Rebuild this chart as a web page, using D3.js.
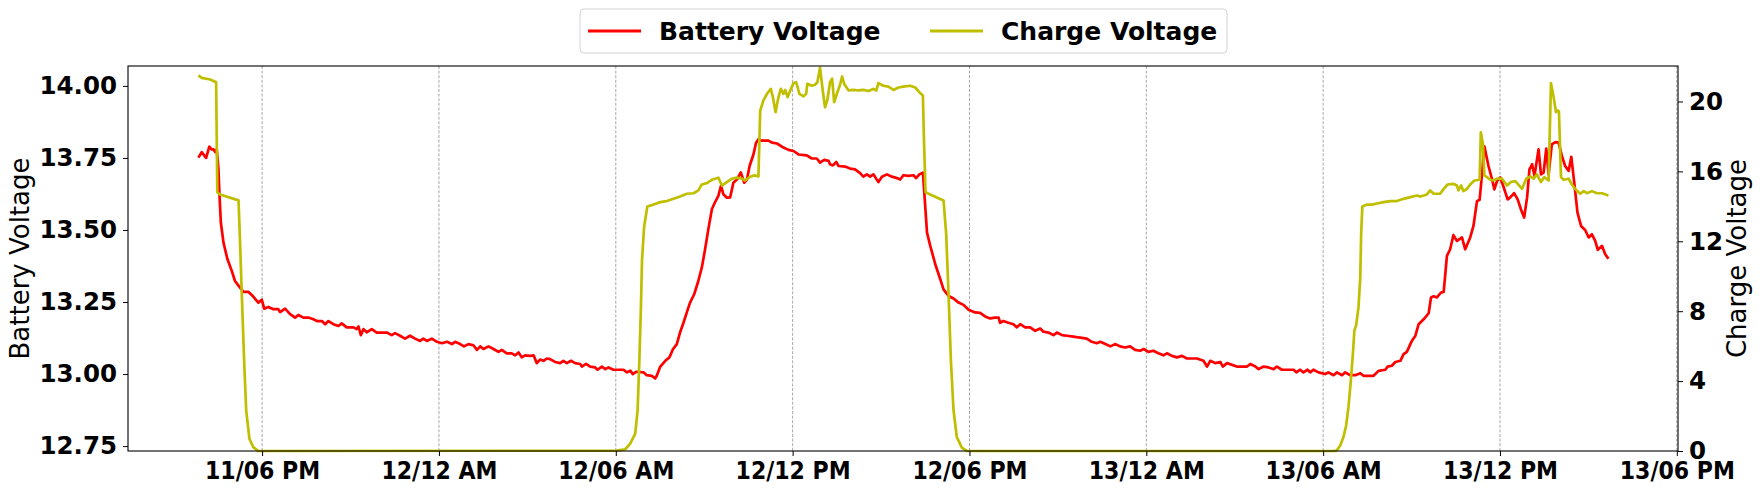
<!DOCTYPE html>
<html>
<head>
<meta charset="utf-8">
<script src="https://cdn.jsdelivr.net/npm/d3@7"></script>
<style>
  html, body { margin: 0; padding: 0; background: #fff; }
  svg { display: block; }
  .tick text { font-family: "DejaVu Sans", sans-serif; }
</style>
</head>
<body>
<svg id="chart" width="1762" height="491"></svg>
<script>
// ---------------- DATA ----------------
// times: hours since day 11, 00:00
const seriesNames = ["Battery Voltage", "Charge Voltage"];
const seriesColors = ["#ff0000", "#bfbf00"];

const batteryTimes = [15.84,15.95,16.10,16.21,16.28,16.35,16.41,16.46,16.52,16.55,16.60,16.69,16.82,16.97,17.08,17.25,17.37,17.54,17.70,17.87,17.99,18.07,18.21,18.38,18.55,18.61,18.78,18.95,19.12,19.23,19.40,19.57,19.74,19.86,20.03,20.14,20.25,20.42,20.59,20.70,20.87,21.10,21.21,21.27,21.35,21.44,21.55,21.72,21.89,22.23,22.40,22.51,22.68,22.85,23.02,23.19,23.36,23.47,23.59,23.76,23.93,24.10,24.27,24.44,24.55,24.72,24.85,25.00,25.17,25.29,25.40,25.51,25.68,25.85,26.02,26.13,26.30,26.47,26.59,26.70,26.81,26.92,27.09,27.21,27.32,27.43,27.55,27.66,27.77,27.94,28.11,28.22,28.34,28.48,28.62,28.79,28.85,28.99,29.13,29.30,29.38,29.53,29.64,29.75,29.92,30.26,30.38,30.49,30.58,30.69,30.94,31.05,31.22,31.34,31.39,31.51,31.68,31.82,31.94,32.07,32.18,32.30,32.41,32.52,32.66,32.80,32.92,33.03,33.14,33.26,33.37,33.48,33.57,33.65,33.77,33.88,33.99,34.11,34.24,34.36,34.45,34.54,34.67,34.76,34.84,34.96,35.18,35.30,35.47,35.69,35.86,36.03,36.20,36.48,36.65,36.82,36.93,37.07,37.22,37.27,37.37,37.48,37.56,37.78,37.95,38.12,38.29,38.40,38.52,38.63,38.74,38.91,39.03,39.20,39.37,39.54,39.65,39.76,39.93,40.10,40.19,40.30,40.42,40.46,40.56,40.67,40.84,41.01,41.12,41.29,41.46,41.63,41.80,41.97,42.19,42.36,42.53,42.70,42.87,42.99,43.04,43.15,43.32,43.49,43.61,43.72,43.89,44.06,44.23,44.40,44.51,44.68,44.85,44.97,45.14,45.31,45.53,45.70,45.98,46.15,46.32,46.44,46.61,46.78,46.94,47.11,47.28,47.45,47.62,47.79,47.91,48.07,48.24,48.41,48.58,48.70,48.87,49.04,49.21,49.38,49.72,49.94,50.06,50.17,50.34,50.51,50.60,50.74,51.07,51.41,51.53,51.70,51.81,51.98,52.15,52.32,52.43,52.60,53.00,53.09,53.22,53.33,53.47,53.56,53.67,53.84,54.07,54.18,54.35,54.47,54.64,54.75,54.92,55.09,55.26,55.37,55.71,55.88,56.11,56.19,56.33,56.45,56.62,56.73,56.84,57.01,57.13,57.24,57.41,57.58,57.66,57.75,57.86,58.00,58.09,58.20,58.31,58.42,58.54,58.71,58.82,58.99,59.10,59.22,59.31,59.39,59.47,59.61,59.73,59.81,59.90,60.01,60.12,60.26,60.35,60.48,60.60,60.71,60.82,60.92,61.00,61.09,61.17,61.31,61.39,61.48,61.57,61.65,61.76,61.88,61.99,62.10,62.21,62.33,62.42,62.52,62.63,62.75,62.89,63.01,63.12,63.23,63.32,63.46,63.57,63.68];
const batteryValues = [13.751,13.770,13.750,13.789,13.780,13.780,13.770,13.780,13.710,13.630,13.526,13.456,13.400,13.358,13.323,13.300,13.285,13.285,13.269,13.248,13.258,13.227,13.233,13.225,13.225,13.215,13.227,13.208,13.196,13.205,13.196,13.196,13.190,13.184,13.184,13.173,13.184,13.173,13.167,13.176,13.162,13.162,13.156,13.165,13.135,13.156,13.145,13.156,13.144,13.144,13.135,13.142,13.133,13.123,13.133,13.123,13.115,13.123,13.115,13.123,13.112,13.107,13.112,13.104,13.112,13.104,13.096,13.104,13.100,13.084,13.096,13.087,13.096,13.087,13.077,13.084,13.072,13.072,13.065,13.075,13.058,13.065,13.063,13.065,13.038,13.050,13.046,13.054,13.052,13.042,13.038,13.046,13.038,13.046,13.038,13.035,13.026,13.035,13.026,13.023,13.015,13.026,13.017,13.023,13.015,13.015,13.006,13.012,13.000,13.008,13.006,12.996,12.994,12.985,12.994,13.026,13.046,13.058,13.086,13.104,13.144,13.179,13.214,13.248,13.277,13.323,13.370,13.433,13.502,13.572,13.597,13.618,13.653,13.624,13.612,13.613,13.664,13.675,13.700,13.664,13.675,13.722,13.762,13.803,13.815,13.810,13.810,13.803,13.800,13.786,13.778,13.774,13.762,13.759,13.748,13.748,13.734,13.743,13.740,13.728,13.724,13.736,13.722,13.720,13.713,13.710,13.697,13.685,13.693,13.685,13.693,13.666,13.685,13.693,13.685,13.680,13.675,13.690,13.688,13.690,13.680,13.693,13.699,13.641,13.491,13.445,13.381,13.329,13.294,13.271,13.262,13.248,13.240,13.223,13.214,13.212,13.200,13.193,13.196,13.196,13.178,13.184,13.178,13.173,13.162,13.173,13.162,13.162,13.150,13.158,13.147,13.144,13.135,13.144,13.135,13.133,13.130,13.127,13.123,13.112,13.107,13.112,13.104,13.096,13.104,13.096,13.092,13.096,13.084,13.081,13.087,13.077,13.081,13.072,13.065,13.072,13.063,13.058,13.063,13.054,13.054,13.046,13.026,13.046,13.038,13.042,13.026,13.038,13.026,13.026,13.035,13.026,13.017,13.026,13.023,13.017,13.026,13.015,13.015,13.006,13.015,13.006,13.015,13.006,13.015,13.006,13.000,13.006,12.996,13.006,12.996,13.006,12.996,12.996,13.003,12.994,12.994,13.011,13.015,13.026,13.029,13.042,13.046,13.069,13.077,13.115,13.133,13.173,13.190,13.211,13.266,13.270,13.266,13.283,13.285,13.410,13.433,13.482,13.462,13.474,13.433,13.474,13.514,13.600,13.605,13.693,13.790,13.722,13.676,13.641,13.670,13.682,13.650,13.606,13.613,13.628,13.606,13.572,13.543,13.613,13.710,13.728,13.688,13.780,13.693,13.699,13.782,13.693,13.797,13.805,13.803,13.757,13.722,13.705,13.754,13.664,13.560,13.514,13.500,13.474,13.485,13.462,13.431,13.445,13.416,13.400];

const chargeTimes = [15.84,15.95,16.24,16.44,16.48,16.57,17.20,17.25,17.31,17.39,17.46,17.57,17.70,17.87,30.04,30.32,30.49,30.66,30.74,30.80,30.85,30.89,30.96,31.07,31.28,31.51,31.73,31.96,32.18,32.41,32.64,32.80,32.92,33.09,33.26,33.37,33.48,33.60,33.77,33.94,34.11,34.28,34.39,34.54,34.70,34.84,34.90,35.01,35.13,35.26,35.33,35.42,35.52,35.60,35.69,35.75,35.83,35.92,36.03,36.12,36.23,36.37,36.46,36.50,36.65,36.76,36.84,36.93,37.03,37.10,37.18,37.27,37.34,37.41,37.50,37.61,37.68,37.75,37.90,38.07,38.23,38.40,38.57,38.74,38.84,38.91,39.08,39.25,39.42,39.59,39.76,39.99,40.16,40.30,40.42,40.46,40.51,40.61,41.12,41.21,41.29,41.37,41.46,41.57,41.74,41.91,54.41,54.47,54.58,54.69,54.78,54.86,54.94,55.01,55.06,55.12,55.20,55.26,55.29,55.33,55.49,55.66,55.83,56.05,56.28,56.50,56.73,56.96,57.18,57.29,57.41,57.52,57.63,57.75,57.97,58.09,58.22,58.42,58.54,58.59,58.68,58.76,58.88,58.99,59.13,59.31,59.35,59.42,59.47,59.56,59.67,59.78,59.90,60.07,60.24,60.37,60.52,60.60,60.75,60.89,61.03,61.14,61.25,61.39,61.50,61.65,61.73,61.82,61.90,61.95,62.00,62.07,62.16,62.33,62.44,62.55,62.72,62.84,62.95,63.12,63.29,63.46,63.68];
const chargeValues = [21.49,21.35,21.26,21.10,14.81,14.68,14.34,12.05,9.00,5.18,2.32,0.70,0.22,0.00,0.02,0.10,0.42,0.99,2.32,5.18,8.04,10.90,12.81,13.99,14.10,14.24,14.30,14.43,14.56,14.72,14.75,14.91,15.25,15.33,15.52,15.58,15.64,15.19,15.39,15.58,15.64,15.58,15.48,15.68,15.77,15.71,19.48,20.06,20.44,20.72,20.25,19.39,20.25,20.72,20.44,20.66,20.25,20.63,21.05,21.10,20.44,20.29,20.44,21.01,20.90,20.96,21.10,21.93,20.53,19.67,20.10,21.10,21.30,19.96,20.44,20.96,21.43,21.00,20.63,20.66,20.63,20.66,20.60,20.72,20.63,21.05,20.90,20.85,20.66,20.80,20.85,20.90,20.80,20.53,20.34,17.58,14.81,14.72,14.34,12.43,9.00,5.18,2.32,0.80,0.19,0.00,0.00,0.05,0.32,0.80,1.46,2.51,4.04,5.57,6.90,7.19,8.23,9.95,12.43,13.99,14.10,14.10,14.16,14.24,14.30,14.30,14.43,14.53,14.62,14.56,14.62,14.68,14.91,14.72,14.72,15.00,15.25,15.29,15.19,14.91,15.19,14.87,15.00,15.25,15.48,15.52,18.24,17.58,15.77,15.67,15.52,15.48,15.58,15.58,15.19,15.39,15.44,15.29,15.00,15.58,15.71,15.58,15.83,15.39,15.67,15.48,21.05,20.25,19.39,19.48,19.44,15.67,15.52,15.58,15.25,15.00,14.72,14.87,14.75,14.87,14.75,14.75,14.62];

const batteryTicks = [12.75, 13.00, 13.25, 13.50, 13.75, 14.00];
const chargeTicks = [0, 4, 8, 12, 16, 20];
const xDomainHours = [13.45, 66.04];
const batteryDomain = [12.733, 14.069];
const chargeDomain = [0, 22.03];

// ---------------- CHART ----------------
const baseDate = new Date(2024, 0, 11, 0, 0, 0);
const toDate = h => new Date(baseDate.getTime() + h * 3600e3);

const W = 1762, H = 491;
const m = { left: 128, right: W - 1678, top: 66, bottom: H - 451 };
const pw = W - m.left - m.right, ph = H - m.top - m.bottom;

const svg = d3.select("#chart");
const g = svg.append("g").attr("transform", `translate(${m.left},${m.top})`);

const x = d3.scaleTime().domain(xDomainHours.map(toDate)).range([0, pw]);
const yL = d3.scaleLinear().domain(batteryDomain).range([ph, 0]);
const yR = d3.scaleLinear().domain(chargeDomain).range([ph, 0]);

const xTicks = d3.timeHour.every(6).range(toDate(xDomainHours[0]), toDate(xDomainHours[1]));
const fmt = d3.timeFormat("%d/%I %p");

// grid
g.append("g").selectAll("line").data(xTicks).join("line")
  .attr("x1", d => x(d)).attr("x2", d => x(d))
  .attr("y1", 0).attr("y2", ph)
  .attr("stroke", "#909090").attr("stroke-width", 0.8)
  .attr("stroke-dasharray", "3,1.6");

const batteryData = batteryTimes.map((t, i) => [toDate(t), batteryValues[i]]);
const chargeData = chargeTimes.map((t, i) => [toDate(t), chargeValues[i]]);

g.append("path").datum(batteryData)
  .attr("fill", "none").attr("stroke", seriesColors[0]).attr("stroke-width", 2.7)
  .attr("stroke-linejoin", "round")
  .attr("d", d3.line().x(d => x(d[0])).y(d => yL(d[1])));

g.append("path").datum(chargeData)
  .attr("fill", "none").attr("stroke", seriesColors[1]).attr("stroke-width", 2.7)
  .attr("stroke-linejoin", "round")
  .attr("d", d3.line().x(d => x(d[0])).y(d => yR(d[1])));

// axes
const xAxis = g.append("g").attr("transform", `translate(0,${ph})`)
  .call(d3.axisBottom(x).tickValues(xTicks).tickFormat(fmt).tickSize(5).tickPadding(6));
xAxis.selectAll("text")
  .style("font-family", "'DejaVu Sans Condensed', 'DejaVu Sans', sans-serif")
  .style("font-stretch", "condensed")
  .style("font-weight", "bold").style("font-size", "24.5px").attr("fill", "#000");

const yAxisL = g.append("g")
  .call(d3.axisLeft(yL).tickValues(batteryTicks).tickFormat(d3.format(".2f")).tickSize(5).tickPadding(6));
yAxisL.selectAll("text").style("font-weight", "bold").style("font-size", "24.5px").attr("fill", "#000");

const yAxisR = g.append("g").attr("transform", `translate(${pw},0)`)
  .call(d3.axisRight(yR).tickValues(chargeTicks).tickFormat(d3.format("d")).tickSize(5).tickPadding(6));
yAxisR.selectAll("text").style("font-weight", "bold").style("font-size", "24.5px").attr("fill", "#000");

[xAxis, yAxisL, yAxisR].forEach(a => {
  a.select(".domain").remove();
  a.selectAll(".tick line").attr("stroke", "#000").attr("stroke-width", 1);
});

// frame
g.append("rect").attr("width", pw).attr("height", ph)
  .attr("fill", "none").attr("stroke", "#000").attr("stroke-width", 1.1);

// axis labels
svg.append("text")
  .attr("transform", `translate(29,${m.top + ph / 2}) rotate(-90)`)
  .attr("text-anchor", "middle")
  .style("font-family", "'DejaVu Sans', sans-serif").style("font-size", "26px")
  .text(seriesNames[0]);
svg.append("text")
  .attr("transform", `translate(1746,${m.top + ph / 2}) rotate(-90)`)
  .attr("text-anchor", "middle")
  .style("font-family", "'DejaVu Sans', sans-serif").style("font-size", "26px")
  .text(seriesNames[1]);

// legend
const leg = svg.append("g");
leg.append("rect").attr("x", 580).attr("y", 9).attr("width", 647).attr("height", 44)
  .attr("rx", 4).attr("fill", "#fff").attr("fill-opacity", 0.8)
  .attr("stroke", "#d3d3d3").attr("stroke-width", 1);
const legX = [588, 930];
seriesNames.forEach((name, i) => {
  leg.append("line").attr("x1", legX[i]).attr("x2", legX[i] + 53)
    .attr("y1", 31).attr("y2", 31)
    .attr("stroke", seriesColors[i]).attr("stroke-width", 2.8);
  leg.append("text").attr("x", legX[i] + 71).attr("y", 40)
    .style("font-family", "'DejaVu Sans', sans-serif").style("font-size", "25px")
    .style("font-weight", "bold").text(name);
});
</script>
</body>
</html>
